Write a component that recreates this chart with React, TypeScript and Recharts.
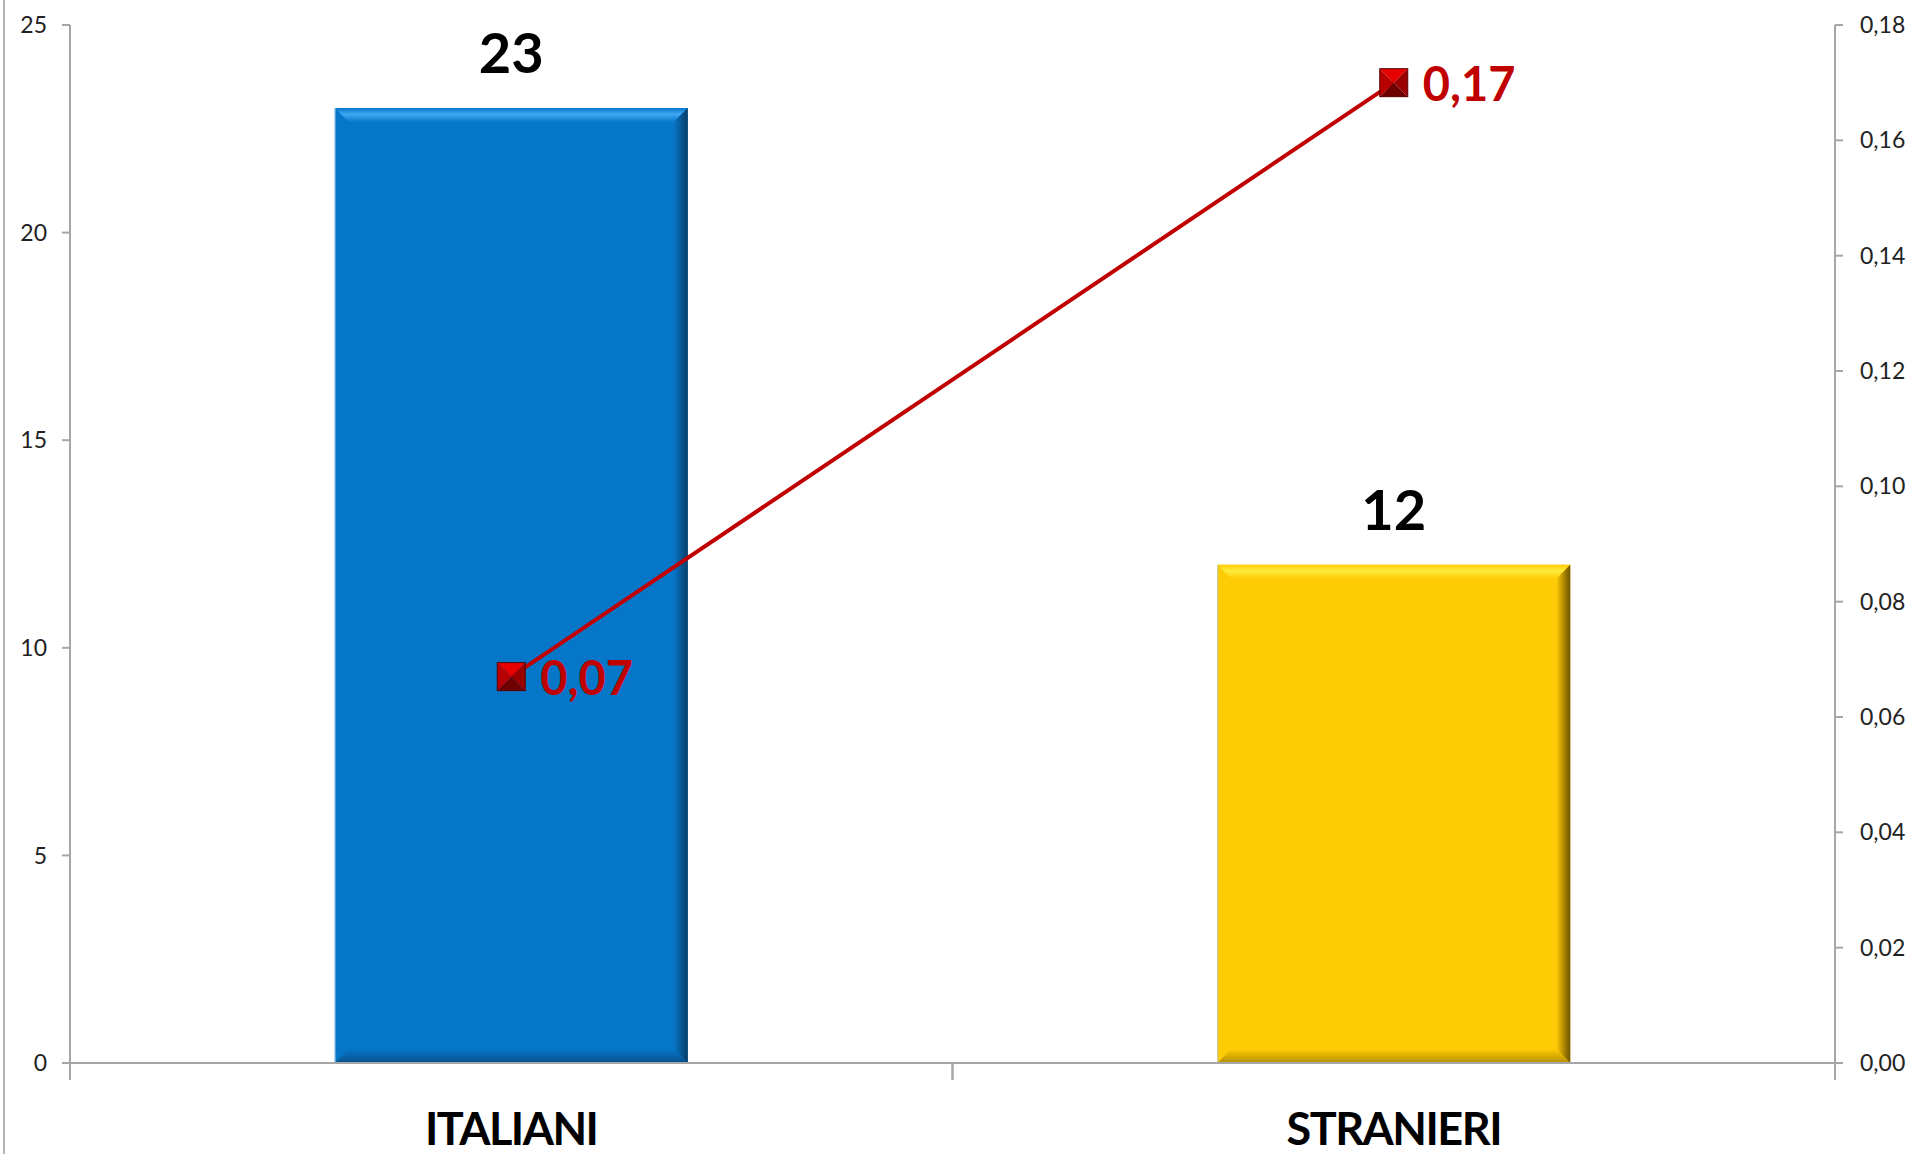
import { Bar, Cell, ComposedChart, LabelList, Line, XAxis, YAxis } from "recharts";

const categories = ["ITALIANI", "STRANIERI"];
const counts = [23, 12];
const ratios = [0.067, 0.17];
const ratioLabels = ["0,07", "0,17"];
const leftTicks = [0, 5, 10, 15, 20, 25];
const rightTicks = [0, 0.02, 0.04, 0.06, 0.08, 0.1, 0.12, 0.14, 0.16, 0.18];

const barColors = [
  { main: "#0676c9", light: "#3fa8f2", dark: "#0a3d66", bottom: "#07528c" },
  { main: "#ffcb05", light: "#ffec3d", dark: "#6b5200", bottom: "#b38f00" },
];

const data = categories.map((name, i) => ({
  name,
  count: counts[i],
  ratio: ratios[i],
  ratioLabel: ratioLabels[i],
}));

const font = "Lato, 'Open Sans', sans-serif";
const axisGrey = "#a6a6a6";
const red = "#c00000";

function BevelBar(props: any) {
  const { x, y, width: w, height: h, index } = props;
  const c = barColors[index % barColors.length];
  const b = 14;
  const gid = `g${index}`;
  return (
    <g>
      <defs>
        <linearGradient id={`${gid}t`} x1="0" y1="0" x2="0" y2="1">
          <stop offset="0" stopColor={c.main} />
          <stop offset="0.45" stopColor={c.light} />
          <stop offset="1" stopColor={c.main} />
        </linearGradient>
        <linearGradient id={`${gid}r`} x1="0" y1="0" x2="1" y2="0">
          <stop offset="0" stopColor={c.main} />
          <stop offset="1" stopColor={c.dark} />
        </linearGradient>
        <linearGradient id={`${gid}b`} x1="0" y1="0" x2="0" y2="1">
          <stop offset="0" stopColor={c.main} />
          <stop offset="1" stopColor={c.bottom} />
        </linearGradient>
      </defs>
      <rect x={x} y={y} width={w} height={h} fill={c.main} />
      <polygon
        points={`${x},${y} ${x + w},${y} ${x + w - b},${y + b} ${x + b},${y + b}`}
        fill={`url(#${gid}t)`}
      />
      <polygon
        points={`${x},${y + h} ${x + w},${y + h} ${x + w - b},${y + h - b} ${x + b},${y + h - b}`}
        fill={`url(#${gid}b)`}
      />
      <polygon
        points={`${x + w},${y} ${x + w},${y + h} ${x + w - b},${y + h - b} ${x + w - b},${y + b}`}
        fill={`url(#${gid}r)`}
      />
      <line x1={x + 0.5} y1={y} x2={x + 0.5} y2={y + h} stroke="#9cc8ea" strokeWidth={1} opacity={0.7} />
    </g>
  );
}

function SquareDot(props: any) {
  const { cx, cy } = props;
  const s = 14;
  const l = cx - s, r = cx + s, t = cy - s, bt = cy + s;
  return (
    <g>
      <polygon points={`${l},${t} ${r},${t} ${cx},${cy}`} fill="#e60000" />
      <polygon points={`${r},${t} ${r},${bt} ${cx},${cy}`} fill="#9a0000" />
      <polygon points={`${l},${bt} ${r},${bt} ${cx},${cy}`} fill="#6e0000" />
      <polygon points={`${l},${t} ${l},${bt} ${cx},${cy}`} fill="#b80000" />
      <rect x={l} y={t} width={2 * s} height={2 * s} fill="none" stroke="#5a0000" strokeWidth={1} />
    </g>
  );
}

function CountLabel(props: any) {
  const { x, y, width, value } = props;
  return (
    <text
      x={x + width / 2}
      y={y - 35}
      textAnchor="middle"
      fontFamily={font}
      fontWeight={700}
      fontSize={56}
      fill="#000"
    >
      {value}
    </text>
  );
}

function RatioLabel(props: any) {
  const { x, y, value } = props;
  return (
    <text
      x={x + 29}
      y={y}
      dominantBaseline="central"
      fontFamily={font}
      fontWeight={700}
      fontSize={47}
      fill={red}
    >
      {value}
    </text>
  );
}

// category label plus the tick marks on both band edges
function CategoryTick(props: any) {
  const { x, y, payload } = props;
  const half = typeof payload.offset === "number" && payload.offset > 0 ? payload.offset : 0;
  return (
    <g>
      {half > 0 && (
        <>
          <line x1={x - half} y1={y} x2={x - half} y2={y + 17} stroke={axisGrey} strokeWidth={2} />
          <line x1={x + half} y1={y} x2={x + half} y2={y + 17} stroke={axisGrey} strokeWidth={2} />
        </>
      )}
      <text
        x={x}
        y={y + 82}
        textAnchor="middle"
        fontFamily={font}
        fontWeight={700}
        fontSize={45}
        letterSpacing={-1.5}
        fill="#000"
      >
        {payload.value}
      </text>
    </g>
  );
}

const tickStyle = { fontFamily: font, fontSize: 23, fill: "#222" };

export default function App() {
  return (
    <div style={{ position: "absolute", left: 0, top: 0, width: 1910, height: 1154, background: "#fff" }}>
      <div style={{ position: "absolute", left: 3, top: 0, width: 2, height: 1154, background: "#b4b4b4" }} />
      <ComposedChart
        width={1910}
        height={1154}
        data={data}
        margin={{ top: 25, right: 0, bottom: 0, left: 0 }}
        barCategoryGap="30%"
      >
        <XAxis
          dataKey="name"
          height={91}
          tickSize={0}
          tickMargin={0}
          tickLine={false}
          axisLine={{ stroke: axisGrey, strokeWidth: 2 }}
          tick={<CategoryTick />}
          interval={0}
        />
        <YAxis
          yAxisId="left"
          domain={[0, 25]}
          ticks={leftTicks}
          width={70}
          tickSize={8}
          tickMargin={15}
          axisLine={{ stroke: axisGrey, strokeWidth: 2 }}
          tickLine={{ stroke: axisGrey, strokeWidth: 2 }}
          tick={tickStyle}
        />
        <YAxis
          yAxisId="right"
          orientation="right"
          domain={[0, 0.18]}
          ticks={rightTicks}
          width={75}
          tickSize={8}
          tickMargin={17}
          axisLine={{ stroke: axisGrey, strokeWidth: 2 }}
          tickLine={{ stroke: axisGrey, strokeWidth: 2 }}
          tick={tickStyle}
          tickFormatter={(v: number) => v.toFixed(2).replace(".", ",")}
        />
        <Bar yAxisId="left" dataKey="count" shape={<BevelBar />} isAnimationActive={false}>
          {data.map((d, i) => (
            <Cell key={d.name} fill={barColors[i].main} />
          ))}
          <LabelList dataKey="count" content={<CountLabel />} />
        </Bar>
        <Line
          yAxisId="right"
          dataKey="ratio"
          stroke={red}
          strokeWidth={4}
          dot={<SquareDot />}
          activeDot={false}
          isAnimationActive={false}
        >
          <LabelList dataKey="ratioLabel" content={<RatioLabel />} />
        </Line>
      </ComposedChart>
    </div>
  );
}
